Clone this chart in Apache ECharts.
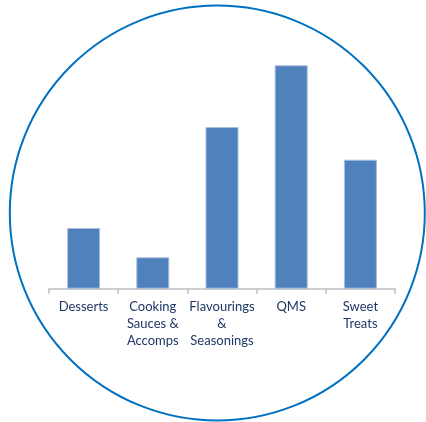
<!DOCTYPE html>
<html>
<head>
<meta charset="utf-8">
<script src="https://cdn.jsdelivr.net/npm/echarts@6/dist/echarts.min.js"></script>
<style>
  html, body { margin: 0; padding: 0; background: #ffffff; }
  #chart { width: 426px; height: 422px; }
</style>
</head>
<body>
<div id="chart"></div>
<script>
// Product categories and their volumes
const categories = ['Desserts', 'Cooking\nSauces &\nAccomps', 'Flavourings\n&\nSeasonings', 'QMS', 'Sweet\nTreats'];
const values = [60.7, 31.4, 161.7, 223.4, 129];

const chart = echarts.init(document.getElementById('chart'), null, { renderer: 'canvas' });

chart.setOption({
  animation: false,
  backgroundColor: '#ffffff',
  grid: { left: 49, right: 31, top: 48.7, bottom: 133.3 },
  xAxis: {
    type: 'category',
    data: categories,
    axisLine: { lineStyle: { color: '#bfbfbf', width: 1.5 } },
    axisTick: { show: true, length: 5, lineStyle: { color: '#bfbfbf', width: 1.5 } },
    axisLabel: {
      color: '#1f3864',
      fontFamily: 'Lato',
      fontSize: 13,
      lineHeight: 17,
      margin: 10,
      interval: 0
    }
  },
  yAxis: {
    type: 'value',
    min: 0,
    max: 240,
    show: false
  },
  series: [{
    type: 'bar',
    data: values,
    barWidth: 33,
    itemStyle: {
      color: '#4f81bd',
      borderColor: '#a9bfdc',
      borderWidth: 1
    }
  }],
  graphic: [{
    type: 'circle',
    shape: { cx: 217.3, cy: 213, r: 207.5 },
    style: { fill: 'none', stroke: '#0070c0', lineWidth: 2 },
    silent: true
  }]
});
</script>
</body>
</html>
